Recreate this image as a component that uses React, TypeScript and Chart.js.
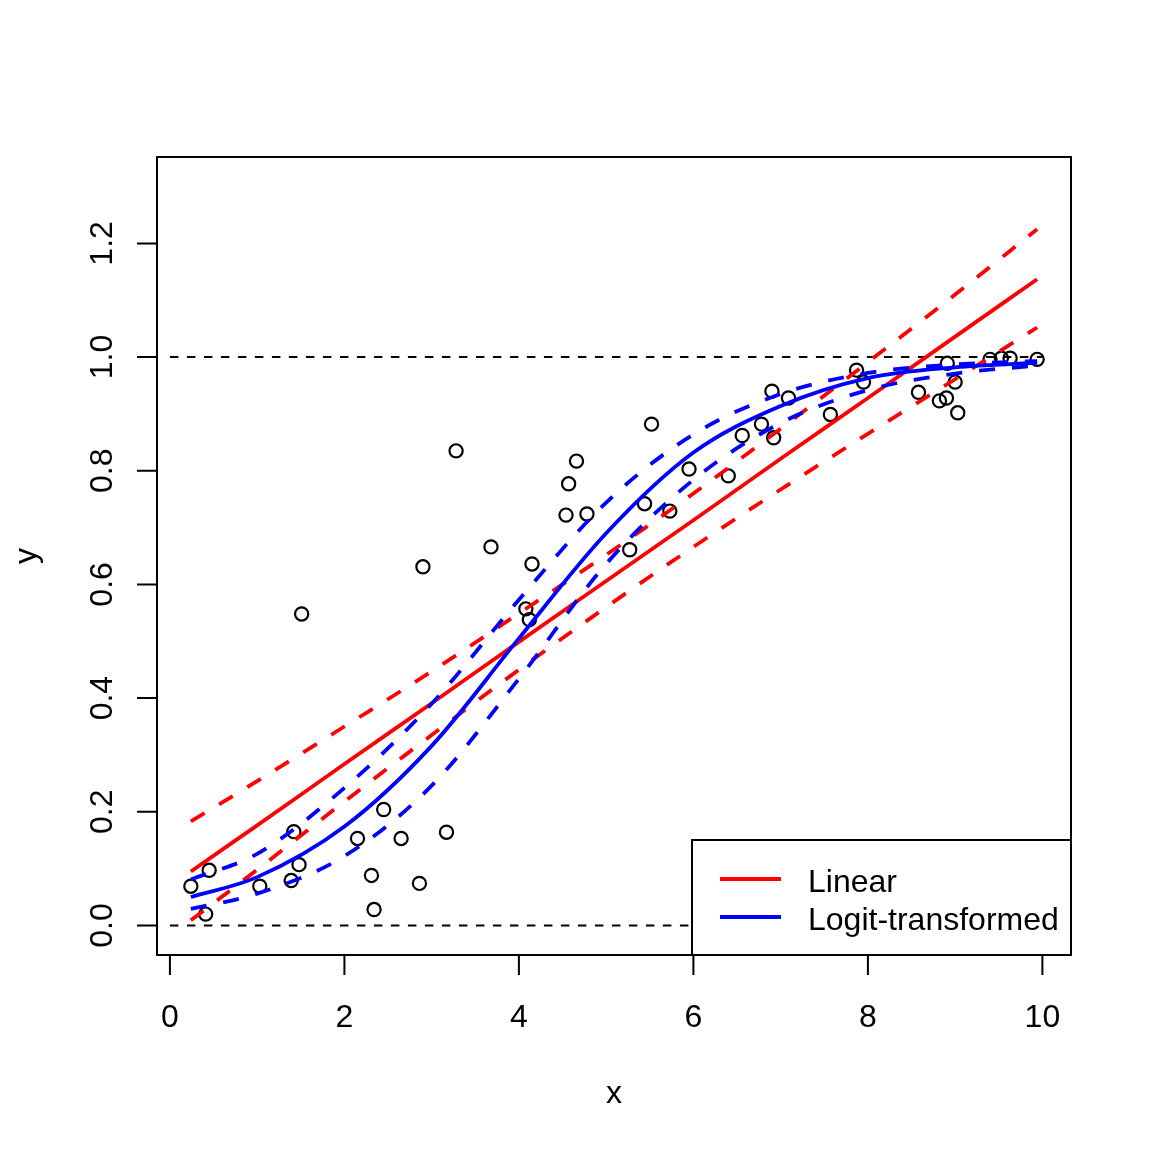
import React, { useEffect, useRef } from "react";
import { Chart, registerables, Plugin } from "chart.js";

Chart.register(...registerables);

// observed data (open circles)
const obsX = [
  0.24, 0.45, 0.41, 1.03, 1.39, 1.42, 1.48, 1.51, 2.15, 2.31, 2.34, 2.45, 2.65,
  2.86, 2.9, 3.17, 3.28, 3.68, 4.08, 4.12, 4.15, 4.54, 4.57, 4.66, 4.78, 5.27,
  5.44, 5.52, 5.73, 5.95, 6.4, 6.56, 6.78, 6.9, 6.92, 7.09, 7.57, 7.87, 7.95,
  8.58, 8.82, 8.9, 8.91, 9.0, 9.03, 9.4, 9.53, 9.63, 9.94,
];
const obsY = [
  0.069, 0.097, 0.02, 0.069, 0.079, 0.165, 0.107, 0.548, 0.153, 0.088, 0.028,
  0.204, 0.153, 0.074, 0.631, 0.164, 0.835, 0.666, 0.557, 0.538, 0.636, 0.722,
  0.777, 0.817, 0.724, 0.661, 0.742, 0.882, 0.729, 0.803, 0.791, 0.862, 0.882,
  0.94, 0.858, 0.928, 0.899, 0.977, 0.956, 0.938, 0.923, 0.928, 0.989, 0.956,
  0.902, 0.996, 0.998, 0.998, 0.996,
];

// fitted curves, read at these x positions
const gridX = [0.24, 1, 2, 3, 4, 5, 6, 7, 8, 9, 9.94];
const linFit = [0.095, 0.176, 0.284, 0.391, 0.499, 0.606, 0.713, 0.821, 0.928, 1.036, 1.137];
const linUpper = [0.183, 0.254, 0.35, 0.447, 0.549, 0.652, 0.76, 0.874, 0.991, 1.11, 1.225];
const linLower = [0.009, 0.098, 0.218, 0.335, 0.45, 0.56, 0.666, 0.767, 0.865, 0.961, 1.052];
const logitFit = [0.05, 0.085, 0.174, 0.316, 0.505, 0.69, 0.832, 0.914, 0.963, 0.982, 0.99];
const logitUpper = [0.081, 0.126, 0.242, 0.39, 0.573, 0.744, 0.864, 0.935, 0.972, 0.987, 0.993];
const logitLower = [0.029, 0.056, 0.122, 0.246, 0.434, 0.636, 0.784, 0.884, 0.942, 0.971, 0.985];

const xTicks = [0, 2, 4, 6, 8, 10];
const yTicks = [0, 0.2, 0.4, 0.6, 0.8, 1.0, 1.2];
const refLines = [0, 1];
const legendItems = [
  { label: "Linear", color: "#ff0000" },
  { label: "Logit-transformed", color: "#0000ff" },
];

const FONT = '32px "Liberation Sans", Arial, sans-serif';

const toXY = (xs: number[], ys: number[]) => xs.map((x, i) => ({ x, y: ys[i] }));

const curve = (data: number[], color: string, dashed: boolean, order: number) => ({
  data: toXY(gridX, data),
  showLine: true,
  borderColor: color,
  borderWidth: 3.8,
  borderDash: dashed ? [16, 17] : [],
  pointRadius: 0,
  cubicInterpolationMode: "monotone" as const,
  order,
});

// R style axes, box, reference lines and legend
const basePlot: Plugin = {
  id: "basePlot",
  beforeDatasetsDraw(chart) {
    const { ctx, scales } = chart;
    const xs = scales.x;
    const ys = scales.y;
    ctx.save();
    ctx.strokeStyle = "#000";
    ctx.lineWidth = 2;
    ctx.setLineDash([8.5, 8.5]);
    refLines.forEach((v) => {
      const py = ys.getPixelForValue(v);
      ctx.beginPath();
      ctx.moveTo(xs.getPixelForValue(0), py);
      ctx.lineTo(xs.getPixelForValue(10), py);
      ctx.stroke();
    });
    ctx.restore();
  },
  afterDraw(chart) {
    const { ctx, chartArea: a, scales } = chart;
    const xs = scales.x;
    const ys = scales.y;
    ctx.save();
    ctx.strokeStyle = "#000";
    ctx.fillStyle = "#000";
    ctx.lineWidth = 2;
    ctx.setLineDash([]);
    ctx.font = FONT;

    // x axis
    ctx.beginPath();
    xTicks.forEach((t) => {
      const px = xs.getPixelForValue(t);
      ctx.moveTo(px, a.bottom);
      ctx.lineTo(px, a.bottom + 20);
    });
    ctx.stroke();
    ctx.textAlign = "center";
    ctx.textBaseline = "alphabetic";
    xTicks.forEach((t) => {
      ctx.fillText(String(t), xs.getPixelForValue(t), a.bottom + 72);
    });
    ctx.fillText("x", (a.left + a.right) / 2, a.bottom + 148);

    // y axis
    ctx.beginPath();
    yTicks.forEach((t) => {
      const py = ys.getPixelForValue(t);
      ctx.moveTo(a.left, py);
      ctx.lineTo(a.left - 20, py);
    });
    ctx.stroke();
    yTicks.forEach((t) => {
      ctx.save();
      ctx.translate(a.left - 45, ys.getPixelForValue(t));
      ctx.rotate(-Math.PI / 2);
      ctx.fillText(t.toFixed(1), 0, 0);
      ctx.restore();
    });
    ctx.save();
    ctx.translate(a.left - 121, (a.top + a.bottom) / 2);
    ctx.rotate(-Math.PI / 2);
    ctx.fillText("y", 0, 0);
    ctx.restore();

    // legend
    const lx = 692;
    const ly = 840;
    ctx.fillStyle = "#fff";
    ctx.fillRect(lx, ly, a.right - lx, a.bottom - ly);
    ctx.strokeRect(lx, ly, a.right - lx, a.bottom - ly);
    ctx.textAlign = "left";
    legendItems.forEach((it, i) => {
      const cy = 879 + i * 38;
      ctx.strokeStyle = it.color;
      ctx.lineWidth = 3.8;
      ctx.beginPath();
      ctx.moveTo(720, cy);
      ctx.lineTo(781, cy);
      ctx.stroke();
      ctx.fillStyle = "#000";
      ctx.fillText(it.label, 808, cy + 12.5);
    });

    // box
    ctx.strokeStyle = "#000";
    ctx.lineWidth = 2;
    ctx.strokeRect(a.left, a.top, a.right - a.left, a.bottom - a.top);
    ctx.restore();
  },
};

const App: React.FC = () => {
  const chartRef = useRef<HTMLCanvasElement | null>(null);

  useEffect(() => {
    if (!chartRef.current) return;
    const ctx = chartRef.current.getContext("2d");
    if (!ctx) return;

    const chart = new Chart(ctx, {
      type: "scatter",
      data: {
        datasets: [
          curve(logitFit, "#0000ff", false, 1),
          curve(logitUpper, "#0000ff", true, 1),
          curve(logitLower, "#0000ff", true, 1),
          curve(linFit, "#ff0000", false, 2),
          curve(linUpper, "#ff0000", true, 2),
          curve(linLower, "#ff0000", true, 2),
          {
            data: toXY(obsX, obsY),
            showLine: false,
            pointStyle: "circle",
            pointRadius: 6.6,
            pointBorderWidth: 2.2,
            pointBorderColor: "#000",
            pointBackgroundColor: "rgba(0,0,0,0)",
            order: 3,
          },
        ],
      },
      options: {
        animation: false,
        responsive: false,
        devicePixelRatio: 1,
        layout: { padding: { left: 157, top: 157, right: 81, bottom: 197 } },
        scales: {
          x: { type: "linear", min: -0.148, max: 10.328, display: false },
          y: { type: "linear", min: -0.052, max: 1.352, display: false },
        },
        plugins: {
          legend: { display: false },
          tooltip: { enabled: false },
        },
      },
      plugins: [basePlot],
    });

    return () => {
      chart.destroy();
    };
  }, []);

  return (
    <div style={{ position: "absolute", left: 0, top: 0, width: 1152, height: 1152, background: "#fff" }}>
      <canvas ref={chartRef} width={1152} height={1152} style={{ display: "block" }} />
    </div>
  );
};

export default App;
